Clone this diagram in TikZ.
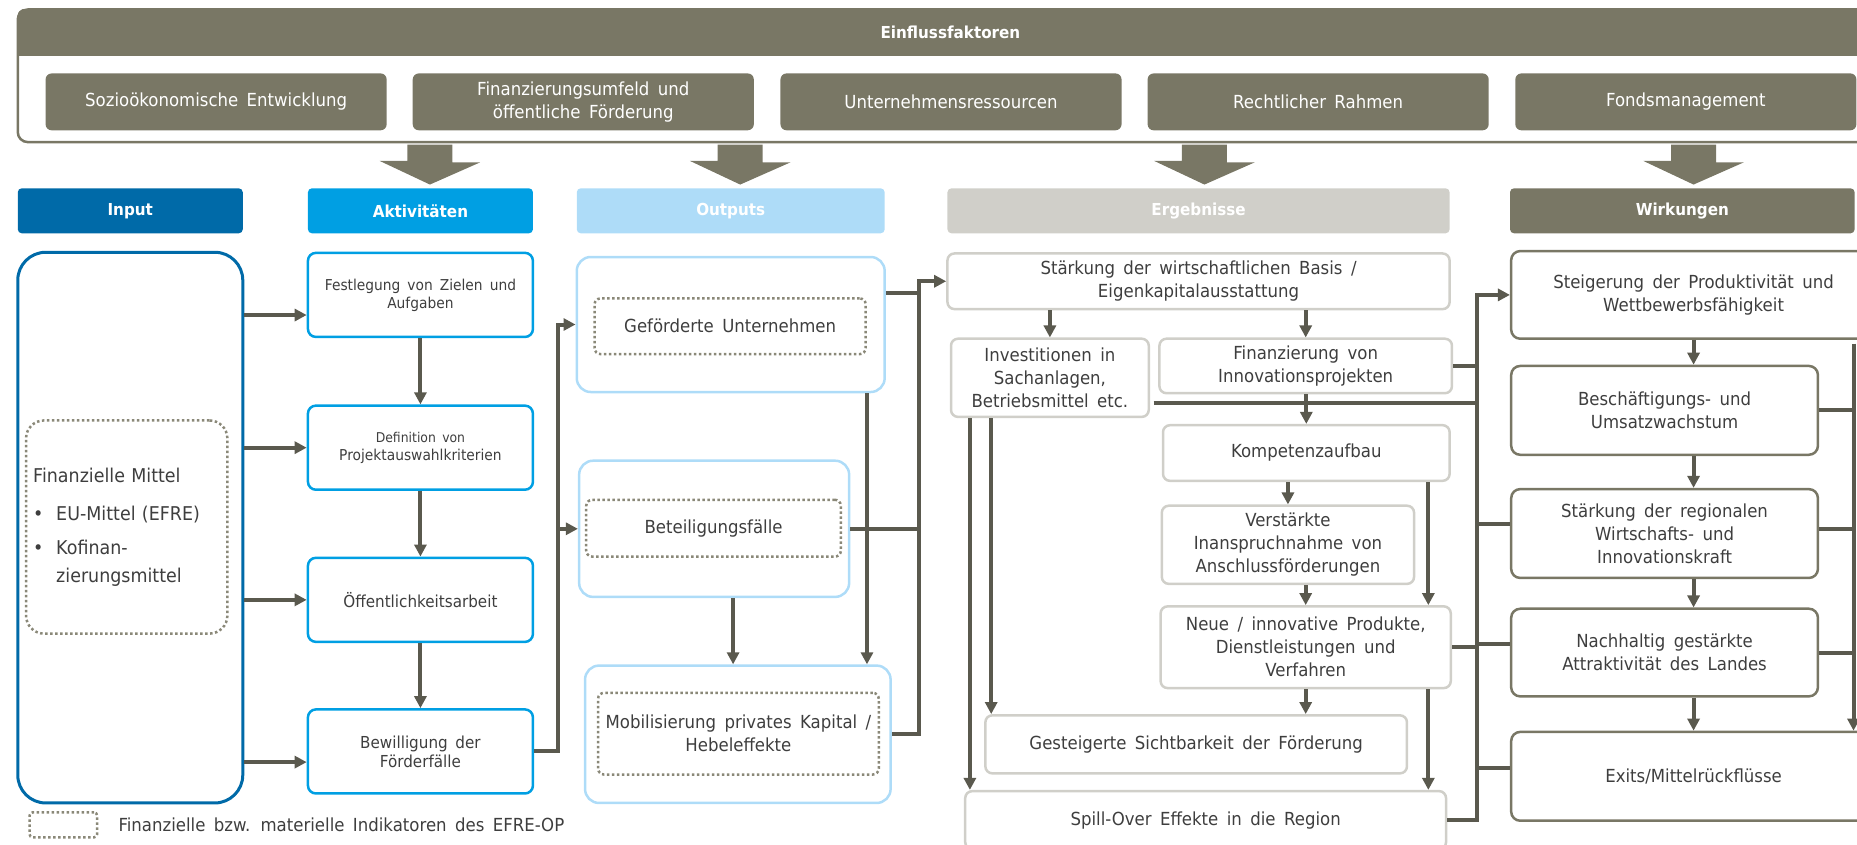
\documentclass[tikz,border=0pt]{standalone}
\usepackage{fontspec}
\setmainfont{DejaVu Sans}[FakeStretch=0.92,WordSpace=1.6]
\usepackage{xcolor}
\usepackage[]{tikz}
\usetikzlibrary{arrows.meta,positioning,calc}

\definecolor{faktor}{RGB}{121,119,101}
\definecolor{inblue}{RGB}{0,106,168}
\definecolor{aktblue}{RGB}{0,159,227}
\definecolor{outblue}{RGB}{174,220,248}
\definecolor{erggray}{RGB}{208,207,201}
\definecolor{pfeil}{RGB}{90,89,78}
\definecolor{punkt}{RGB}{138,136,120}
\definecolor{schrift}{RGB}{62,62,62}

\def\dpx{1.1843pt}
\newcommand\hdrsize{\fontsize{16.5}{20}\selectfont}
\newcommand\mainsize{\fontsize{18}{23}\selectfont}
\newcommand\aktsize{\fontsize{15}{18}\selectfont}
\newcommand\aktbig{\fontsize{16.5}{19}\selectfont}
\newcommand\insize{\fontsize{19}{28}\selectfont}

\tikzset{
  conn/.style={draw=pfeil, line width=4pt},
  indik/.style={draw=punkt, dash pattern=on 2.5pt off 2.5pt, line width=2.5pt}
}

\begin{document}
\begin{tikzpicture}[x=\dpx, y=-\dpx, >={Triangle[length=12pt,width=12pt]}]
                \useasboundingbox (0,0) rectangle (1568,713);
                \clip (0,0) rectangle (1568,713);
                % Einflussfaktoren
                \node[draw=faktor, line width=2.5pt, rounded corners=10pt, minimum width=1575*\dpx, minimum height=112*\dpx] (frame) at (802.5,64) {};
                \begin{scope}
                    \clip[rounded corners=10pt] (frame.south west) rectangle (frame.north east);
                    \node[fill=faktor, text=white, font=\hdrsize\bfseries, minimum width=1575*\dpx, minimum height=39*\dpx] (einfl) at (802.5,27.5) {Einflussfaktoren};
                \end{scope}
                \begin{scope}[every node/.style={fill=faktor, rounded corners=6pt, text=white, font=\mainsize, align=center, minimum width=288*\dpx, minimum height=48*\dpx}]
                    \node (f1) at (182.5,86) {Sozioökonomische Entwicklung};
                    \node (f2) at (492.5,86) {Finanzierungsumfeld und\\öffentliche Förderung};
                    \node (f3) at (803,86) {Unternehmensressourcen};
                    \node (f4) at (1113,86) {Rechtlicher Rahmen};
                    \node (f5) at (1423.5,86) {Fondsmanagement};
                \end{scope}
                % Kopfzeilen
                \begin{scope}[every node/.style={rounded corners=4pt, text=white, font=\hdrsize\bfseries, minimum height=38*\dpx}]
                    \node[fill=inblue, minimum width=190*\dpx] (inhdr) at (110,178) {Input};
                    \node[fill=aktblue, minimum width=190*\dpx] (akthdr) at (355,178) {Aktivitäten};
                    \node[fill=outblue, minimum width=260*\dpx] (outhdr) at (617,178) {Outputs};
                    \node[fill=erggray, minimum width=424*\dpx] (erghdr) at (1012,178) {Ergebnisse};
                    \node[fill=faktor, minimum width=291*\dpx] (wirhdr) at (1420.5,178) {Wirkungen};
                \end{scope}
                \fill[faktor] ($(frame.south -| akthdr)+(-11,1)$) -- ++(38,0) -- ++(0,15) -- ++(23.5,0) -- ($(akthdr.north)+(8,-3)$) -- ++(-42.5,-20) -- ++(23.5,0) -- cycle;
                \fill[faktor] ($(frame.south -| outhdr)+(-11,1)$) -- ++(38,0) -- ++(0,15) -- ++(23.5,0) -- ($(outhdr.north)+(8,-3)$) -- ++(-42.5,-20) -- ++(23.5,0) -- cycle;
                \fill[faktor] ($(frame.south -| erghdr)+(-14,1)$) -- ++(38,0) -- ++(0,15) -- ++(23.5,0) -- ($(erghdr.north)+(5,-3)$) -- ++(-42.5,-20) -- ++(23.5,0) -- cycle;
                \fill[faktor] ($(frame.south -| wirhdr)+(-9.5,1)$) -- ++(38,0) -- ++(0,15) -- ++(23.5,0) -- ($(wirhdr.north)+(9.5,-3)$) -- ++(-42.5,-20) -- ++(23.5,0) -- cycle;
                % Input
                \node[draw=inblue, line width=3pt, rounded corners=28pt, minimum width=190*\dpx, minimum height=465*\dpx] (in) at (110,445.5) {};
                \node[indik, rounded corners=18pt, minimum width=170*\dpx, minimum height=180*\dpx, text width=187pt, inner xsep=7pt, align=left, text=schrift, font=\insize] (fin) at (107,445) {Finanzielle Mittel\\[10pt]
                    \makebox[23pt][l]{\textbullet}EU-Mittel (EFRE)\\[6pt]
                    \makebox[23pt][l]{\textbullet}Kofinan-\\
                    \hspace*{23pt}zierungsmittel};
                % Aktivitäten
                \begin{scope}[every node/.style={draw=aktblue, line width=2.5pt, rounded corners=8pt, minimum width=190*\dpx, minimum height=71*\dpx, text=schrift, align=center}]
                    \node[font=\aktsize] (a1) at (355,249) {Festlegung von Zielen und\\Aufgaben};
                    \node[font=\aktsize] (a2) at (355,378) {{\fontsize{13.5}{18}\selectfont Definition von}\\Projektauswahlkriterien};
                    \node[font=\aktbig] (a3) at (355,506.5) {Öffentlichkeitsarbeit};
                    \node[font=\aktbig] (a4) at (355,634.5) {Bewilligung der\\Förderfälle};
                \end{scope}
                % Outputs
                \begin{scope}[every node/.style={draw=outblue, line width=2.5pt, rounded corners=14pt}]
                    \node[minimum width=260*\dpx, minimum height=114*\dpx] (o1) at (617,274) {};
                    \node[minimum width=228*\dpx, minimum height=115*\dpx] (o2) at (603,446.5) {};
                    \node[minimum width=258*\dpx, minimum height=116*\dpx] (o3) at (623,620) {};
                \end{scope}
                \begin{scope}[every node/.style={indik, rounded corners=6pt, text=schrift, font=\mainsize, align=center}]
                    \node[minimum width=229*\dpx, minimum height=47*\dpx] (i1) at (616.5,275.5) {Geförderte Unternehmen};
                    \node[minimum width=215*\dpx, minimum height=48*\dpx] (i2) at (602.5,446) {Beteiligungsfälle};
                    \node[minimum width=237*\dpx, minimum height=69*\dpx] (i3) at (623.5,619.5) {Mobilisierung privates Kapital /\\Hebeleffekte};
                \end{scope}
                % Ergebnisse
                \begin{scope}[every node/.style={draw=erggray, line width=2.5pt, rounded corners=7pt, text=schrift, font=\mainsize, align=center}]
                    \node[minimum width=424*\dpx, minimum height=47*\dpx] (e1) at (1012,237.5) {Stärkung der wirtschaftlichen Basis /\\Eigenkapitalausstattung};
                    \node[minimum width=167*\dpx, minimum height=66*\dpx] (e2) at (886.5,319) {Investitionen in\\Sachanlagen,\\Betriebsmittel etc.};
                    \node[minimum width=247*\dpx, minimum height=46*\dpx] (e3) at (1102.5,309) {Finanzierung von\\Innovationsprojekten};
                    \node[minimum width=242*\dpx, minimum height=47*\dpx] (e4) at (1103,382.5) {Kompetenzaufbau};
                    \node[minimum width=213*\dpx, minimum height=66*\dpx] (e5) at (1087.5,460) {Verstärkte\\Inanspruchnahme von\\Anschlussförderungen};
                    \node[minimum width=245*\dpx, minimum height=69*\dpx] (e6) at (1102.5,546.5) {Neue / innovative Produkte,\\Dienstleistungen und\\Verfahren};
                    \node[minimum width=356*\dpx, minimum height=49*\dpx] (e7) at (1010,628.5) {Gesteigerte Sichtbarkeit der Förderung};
                    \node[minimum width=406*\dpx, minimum height=49*\dpx] (e8) at (1018,692.5) {Spill-Over Effekte in die Region};
                \end{scope}
                % Wirkungen
                \begin{scope}[every node/.style={draw=faktor, line width=2.5pt, rounded corners=9pt, text=schrift, font=\mainsize, align=center}]
                    \node[minimum width=308*\dpx, minimum height=74*\dpx] (w1) at (1430,249) {Steigerung der Produktivität und\\Wettbewerbsfähigkeit};
                    \node[minimum width=259*\dpx, minimum height=75*\dpx] (w2) at (1405.5,346.5) {Beschäftigungs- und\\Umsatzwachstum};
                    \node[minimum width=259*\dpx, minimum height=75*\dpx] (w3) at (1405.5,450.5) {Stärkung der regionalen\\Wirtschafts- und\\Innovationskraft};
                    \node[minimum width=259*\dpx, minimum height=74*\dpx] (w4) at (1405.5,551) {Nachhaltig gestärkte\\Attraktivität des Landes};
                    \node[minimum width=308*\dpx, minimum height=75*\dpx] (w5) at (1430,655.5) {Exits/Mittelrückflüsse};
                \end{scope}
                % Legende
                \node[indik, rounded corners=3pt, minimum width=57*\dpx, minimum height=21*\dpx] (leg) at (53.5,696.5) {};
                \node[right=20pt of leg, inner sep=0pt, text=schrift, font=\mainsize] (legtxt) {Finanzielle bzw. materielle Indikatoren des EFRE-OP};
                % Verbindungen
                \begin{scope}[every path/.style={conn}]
                    \draw[->] ($(in.east |- a1.west)+(0,17)$) -- ($(a1.west)+(0,17)$);
                    \draw[->] (in.east |- a2.west) -- (a2.west);
                    \draw[->] (in.east |- a3.west) -- (a3.west);
                    \draw[->] ($(in.east |- a4.west)+(0,9)$) -- ($(a4.west)+(0,9)$);
                    \draw[->] (a1) -- (a2);
                    \draw[->] (a2) -- (a3);
                    \draw[->] (a3) -- (a4);
                    \draw[->] (a4.east) -- ++(20,0) coordinate (j1) |- (o1.west);
                    \draw[->] (j1 |- o2.west) -- (o2.west);
                    \draw[->] ($(o2.south)+(16,0)$) -- ($(o2.south |- o3.north)+(16,0)$);
                    \draw[->] ($(o1.south east)+(-16,0)$) -- ($(o1.south east |- o3.north)+(-16,0)$);
                    \draw[->] (o3.east) -| ($(e1.west)+(-23,0)$) -- (e1.west);
                    \draw ($(o1.east)+(0,-27)$) -- ($(e1.west |- o1.east)+(-23,-27)$);
                    \draw (o2.east) -- ($(e1.west |- o2.east)+(-23,0)$);
                    \draw[->] (e1.south -| e2.north) -- (e2.north);
                    \draw[->] (e1.south -| e3.north) -- (e3.north);
                    \draw[->] (e3.south -| e4.north) -- (e4.north);
                    \draw[->] (e4.south -| e5.north) -- (e5.north);
                    \draw[->] (e5.south -| e6.north) -- (e6.north);
                    \draw[->] (e6.south) -- (e6.south |- e7.north);
                    \draw[->] ($(e4.south east)+(-19,0)$) -- ($(e4.south east |- e6.north)+(-19,0)$);
                    \draw[->] ($(e6.south east)+(-20,0)$) -- ($(e6.south east |- e8.north)+(-20,0)$);
                    \draw[->] ($(e2.south west)+(17,0)$) -- ($(e2.south west |- e8.north)+(17,0)$);
                    \draw[->] ($(e2.south west)+(35,0)$) -- ($(e2.south west |- e7.north)+(35,0)$);
                    \coordinate (t2) at ($(w1.west)+(-28,0)$);
                    \draw[->] (e8.east) -| (t2) -- (w1.west);
                    \draw (e3.east) -- (e3.east -| t2);
                    \draw ($(e2.east)+(3,21.5)$) -- ($(e2.east -| t2)+(0,21.5)$);
                    \draw (e6.east) -- (e6.east -| t2);
                    \draw ($(t2 |- w3.west)+(0,-8)$) -- ($(w3.west)+(0,-8)$);
                    \draw ($(t2 |- w4.west)+(0,-7)$) -- ($(w4.west)+(0,-7)$);
                    \draw ($(t2 |- w5.west)+(0,-7)$) -- ($(w5.west)+(0,-7)$);
                    \draw[->] (w1.south) -- (w1.south |- w2.north);
                    \draw[->] (w2.south -| w1.south) -- (w3.north -| w1.south);
                    \draw[->] (w3.south -| w1.south) -- (w4.north -| w1.south);
                    \draw[->] (w4.south -| w1.south) -- (w5.north);
                    \coordinate (t3) at ($(w2.east)+(29,0)$);
                    \draw[->] ($(t3 |- w1.south)+(0,3)$) -- (t3 |- w5.north);
                    \draw (w2.east) -- (t3);
                    \draw ($(w3.east)+(0,-3.5)$) -- ($(t3 |- w3.east)+(0,-3.5)$);
                    \draw (w4.east) -- (t3 |- w4.east);
                \end{scope}
            \end{tikzpicture}
\end{document}
